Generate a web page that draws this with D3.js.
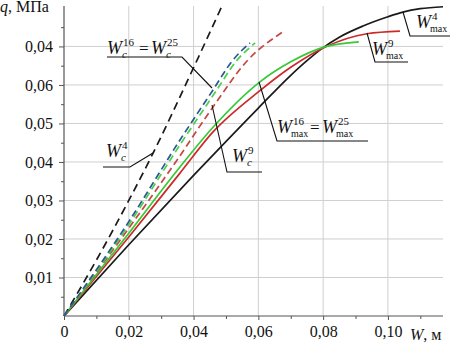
<!DOCTYPE html>
<html>
<head>
<meta charset="utf-8">
<script src="https://cdn.jsdelivr.net/npm/d3@7"></script>
<style>
body { margin: 0; background: #fff; }
svg text { font-family: "Liberation Serif", "Times New Roman", Tinos, "DejaVu Serif", serif; fill: #111; }
</style>
</head>
<body>
<svg width="454" height="343"></svg>
<script>
const svg = d3.select('svg');
const width = +svg.attr('width');
const height = +svg.attr('height');
const serif = '"Liberation Serif", "Times New Roman", Tinos, "DejaVu Serif", serif';

// tick values and labels (the top y label is printed "0,04" in the source)
const xTickValues = [0, 0.02, 0.04, 0.06, 0.08, 0.10];
const xTickLabels = ['0', '0,02', '0,04', '0,06', '0,08', '0,10'];
const yTickValues = [0.01, 0.02, 0.03, 0.04, 0.05, 0.06, 0.07];
const yTickLabels = ['0,01', '0,02', '0,03', '0,04', '0,05', '0,06', '0,04'];

// W_c curves (dashed), [W, q]
const wc4 = [[0, 0], [0.01, 0.0145], [0.02, 0.0300], [0.0275, 0.0423], [0.04, 0.0645], [0.0485, 0.0800]];
const wc9 = [[0, 0], [0.02, 0.0228], [0.0349, 0.0405], [0.046, 0.0543], [0.0568, 0.0665], [0.0676, 0.0738]];
const wc16 = [[0, 0], [0.02, 0.0245], [0.0358, 0.0457], [0.046, 0.0587], [0.0519, 0.0662], [0.0574, 0.0709]];
const wc25 = [[0, 0], [0.02, 0.0237], [0.036, 0.0447], [0.047, 0.0585], [0.053, 0.0660], [0.059, 0.0709]];

// W_max curves (solid), W_max^16 = W_max^25 drawn green
const wmax4 = [[0, 0], [0.02, 0.0185], [0.04, 0.0365], [0.06, 0.0540], [0.07, 0.0625], [0.075, 0.0663], [0.08, 0.0697], [0.085, 0.0724], [0.0923, 0.0753], [0.10, 0.0777], [0.1046, 0.0789], [0.11, 0.0798], [0.117, 0.0803]];
const wmax9 = [[0, 0], [0.02, 0.0205], [0.0358, 0.0371], [0.046, 0.0478], [0.06, 0.0582], [0.07, 0.0646], [0.081, 0.0700], [0.0935, 0.0733], [0.1037, 0.0740]];
const wmax25 = [[0, 0], [0.02, 0.0215], [0.0358, 0.0387], [0.046, 0.0490], [0.0605, 0.0608], [0.07, 0.0660], [0.081, 0.0700], [0.091, 0.0712]];

const margin = {top: 6, right: 11, bottom: 27, left: 64};
const innerWidth = width - margin.left - margin.right;
const innerHeight = height - margin.top - margin.bottom;

const xScale = d3.scaleLinear().domain([0, 0.117]).range([0, innerWidth]);
const yScale = d3.scaleLinear().domain([0, 0.0805]).range([innerHeight, 0]);

const g = svg.append('g')
    .attr('transform', `translate(${margin.left}, ${margin.top})`);

// grid
g.selectAll('.vgrid').data(xTickValues.slice(1))
  .enter().append('line')
    .attr('x1', d => xScale(d)).attr('x2', d => xScale(d))
    .attr('y1', 0).attr('y2', innerHeight)
    .attr('stroke', '#cfcfcf').attr('stroke-width', 1);
g.selectAll('.hgrid').data(yTickValues)
  .enter().append('line')
    .attr('y1', d => yScale(d)).attr('y2', d => yScale(d))
    .attr('x1', 0).attr('x2', innerWidth)
    .attr('stroke', '#cfcfcf').attr('stroke-width', 1);

// minor ticks
const xMinor = d3.range(1, 12, 2).map(i => i * 0.01);
const yMinor = d3.range(1, 16, 2).map(i => i * 0.005);

const xAxis = d3.axisBottom(xScale).tickValues(xTickValues)
    .tickFormat((d, i) => xTickLabels[i]).tickSize(4).tickPadding(6);
const yAxis = d3.axisLeft(yScale).tickValues(yTickValues)
    .tickFormat((d, i) => yTickLabels[i]).tickSize(5).tickPadding(6);

const xAxisG = g.append('g').attr('transform', `translate(0, ${innerHeight})`).call(xAxis);
const yAxisG = g.append('g').call(yAxis);
const xMinorG = g.append('g').attr('transform', `translate(0, ${innerHeight})`)
    .call(d3.axisBottom(xScale).tickValues(xMinor).tickSize(3).tickFormat(''));
const yMinorG = g.append('g')
    .call(d3.axisLeft(yScale).tickValues(yMinor).tickSize(3).tickFormat(''));
[xMinorG, yMinorG].forEach(m => {
  m.select('.domain').remove();
  m.selectAll('text').remove();
});

g.selectAll('g').attr('font-family', serif);
g.selectAll('.domain').attr('stroke', '#555').attr('stroke-width', 1.2);
g.selectAll('.tick line').attr('stroke', '#555');
g.selectAll('.tick text')
    .style('font-family', serif)
    .attr('font-size', 16).attr('fill', '#111');
xAxisG.select('.domain').attr('d', `M0,0H${innerWidth}`);
yAxisG.select('.domain').attr('d', `M0,0V${innerHeight}`);

// curves
const line = d3.line()
    .x(d => xScale(d[0]))
    .y(d => yScale(d[1]))
    .curve(d3.curveMonotoneX);

const series = [
  {data: wmax4, color: '#1a1a1a', dash: null},
  {data: wmax9, color: '#cc2a2a', dash: null},
  {data: wmax25, color: '#36c936', dash: null},
  {data: wc4, color: '#1a1a1a', dash: '8,5'},
  {data: wc9, color: '#c84545', dash: '7,4'},
  {data: wc25, color: '#4ccf4c', dash: '7,4'},
  {data: wc16, color: '#2b5a93', dash: '7,4'}
];

g.selectAll('.curve').data(series)
  .enter().append('path')
    .attr('d', d => line(d.data))
    .attr('fill', 'none')
    .attr('stroke', d => d.color)
    .attr('stroke-width', 1.7)
    .attr('stroke-dasharray', d => d.dash);

// axis titles
svg.append('text').attr('x', 0).attr('y', 12).attr('font-size', 16).style('font-family', serif)
    .html('<tspan font-style="italic">q</tspan>, МПа');
svg.append('text').attr('x', 410).attr('y', 340).attr('font-size', 16).style('font-family', serif)
    .html('<tspan font-style="italic">W</tspan>, м');

// annotations
const ann = svg.append('g').style('font-family', serif);
const leader = pts => ann.append('polyline')
    .attr('points', pts.map(p => p.join(',')).join(' '))
    .attr('fill', 'none').attr('stroke', '#111').attr('stroke-width', 1.1);

const wSym = (x, y, sub, sup) => {
  ann.append('text').attr('x', x).attr('y', y).attr('font-size', 18)
      .attr('font-style', 'italic').text('W');
  ann.append('text').attr('x', x + 16).attr('y', y - 8).attr('font-size', 11).text(sup);
  if (sub === 'c') {
    ann.append('text').attr('x', x + 15).attr('y', y + 4).attr('font-size', 11)
        .attr('font-style', 'italic').text('c');
  } else {
    ann.append('text').attr('x', x + 14).attr('y', y + 4).attr('font-size', 10).text('max');
  }
};
const eq = (x, y) => ann.append('text').attr('x', x).attr('y', y).attr('font-size', 17).text('=');

// W_c^16 = W_c^25
wSym(107, 54, 'c', '16');
eq(139, 54);
wSym(151, 54, 'c', '25');
leader([[107, 57], [182, 57], [212, 88]]);

// W_c^4
wSym(106, 157, 'c', '4');
leader([[103, 167], [130, 167], [153, 153]]);

// W_c^9
wSym(232, 162, 'c', '9');
leader([[212, 105], [227, 172], [262, 172]]);

// W_max^16 = W_max^25
wSym(277, 133, 'max', '16');
eq(310, 133);
wSym(322, 133, 'max', '25');
leader([[259, 82], [277, 141], [368, 141]]);

// W_max^9
wSym(372, 55, 'max', '9');
leader([[367, 33], [375, 62], [408, 62]]);

// W_max^4
wSym(416, 28, 'max', '4');
leader([[403, 12], [410, 36], [450, 36]]);
</script>
</body>
</html>
